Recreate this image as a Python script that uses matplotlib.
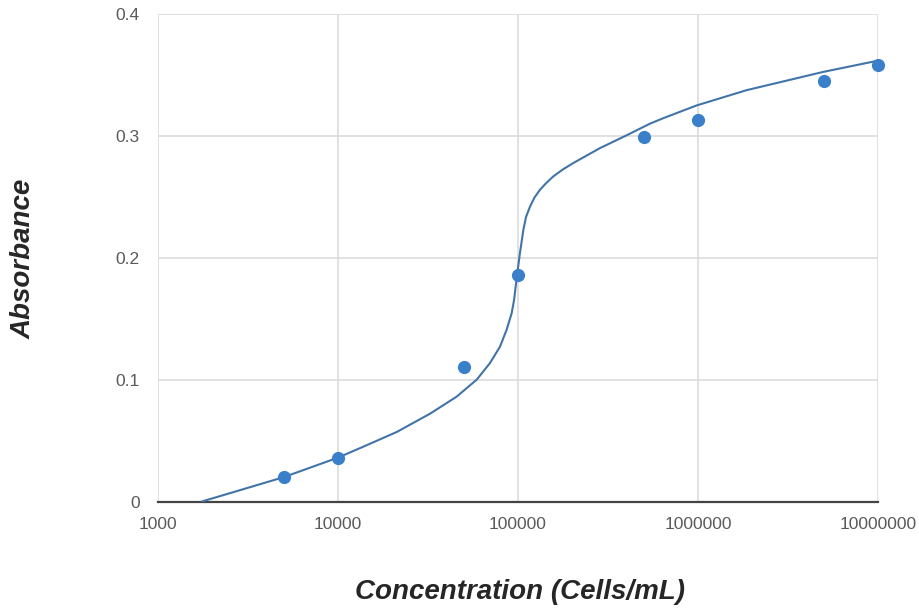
"""
Absorbance vs. concentration — scatter plus trend curve (log x axis)
"""
import matplotlib
matplotlib.use('Agg')
import matplotlib.pyplot as plt
from matplotlib.ticker import FixedLocator, NullLocator, FixedFormatter

plt.rcParams['font.family'] = ['Liberation Sans', 'DejaVu Sans']

# measured points
conc = [5000, 10000, 50000, 100000, 500000, 1000000, 5000000, 10000000]
absorb = [0.020, 0.036, 0.110, 0.186, 0.299, 0.313, 0.345, 0.358]

# trend curve
curve_x = [1754, 5000, 10000, 13840, 21180, 32430, 45600, 59020, 69820, 79430,
           86500, 92260, 95060, 99080, 102600, 107200, 110900, 116700, 123600,
           132400, 142900, 157000, 177800, 202800, 285800, 401800, 540800,
           641200, 984000, 1862000, 4966000, 9840000]
curve_y = [0.000, 0.020, 0.036, 0.045, 0.057, 0.072, 0.086, 0.100, 0.1135, 0.127,
           0.141, 0.1545, 0.165, 0.187, 0.204, 0.223, 0.2335, 0.242, 0.2495,
           0.2557, 0.261, 0.2667, 0.2725, 0.2777, 0.290, 0.3005, 0.310,
           0.3145, 0.325, 0.3375, 0.3525, 0.3615]

x_ticks = [1000, 10000, 100000, 1000000, 10000000]
x_labels = ["1000", "10000", "100000", "1000000", "10000000"]
y_ticks = [0, 0.1, 0.2, 0.3, 0.4]
y_labels = ["0", "0.1", "0.2", "0.3", "0.4"]

fig = plt.figure(figsize=(9.2, 6.09), dpi=100)
ax = fig.add_axes([0.1717, 0.1765, 0.7826, 0.8005])

ax.set_xscale('log')
ax.set_xlim(1000, 10000000)
ax.set_ylim(0, 0.4)

ax.plot(curve_x, curve_y, color='#4274a8', linewidth=1.5, zorder=3,
        solid_joinstyle='round', solid_capstyle='round')
ax.plot(conc, absorb, linestyle='none', marker='o', markersize=9.5,
        color='#3a7fca', markeredgewidth=0, zorder=4, clip_on=False)

ax.xaxis.set_major_locator(FixedLocator(x_ticks))
ax.xaxis.set_major_formatter(FixedFormatter(x_labels))
ax.xaxis.set_minor_locator(NullLocator())
ax.yaxis.set_major_locator(FixedLocator(y_ticks))
ax.yaxis.set_major_formatter(FixedFormatter(y_labels))

ax.grid(True, which='major', color='#dcdcdc', linewidth=1.2)
ax.set_axisbelow(True)
for s in ['left', 'right', 'top']:
    ax.spines[s].set_visible(False)
ax.spines['bottom'].set_color('#444444')
ax.spines['bottom'].set_linewidth(1.6)
ax.spines['bottom'].set_zorder(2.5)

ax.tick_params(axis='both', length=0, labelsize=12.5, labelcolor='#5a5a5a')
ax.tick_params(axis='y', pad=13)
ax.tick_params(axis='x', pad=11)

fig.text(0.565, 0.0164, "Concentration (Cells/mL)", ha='center', va='baseline',
         fontsize=20, fontweight='bold', fontstyle='italic', color='#262626')
fig.text(0.026, 0.575, "Absorbance", ha='center', va='center', rotation=90,
         fontsize=20, fontweight='bold', fontstyle='italic', color='#262626')

fig.savefig("out.png", dpi=100)
plt.close()
